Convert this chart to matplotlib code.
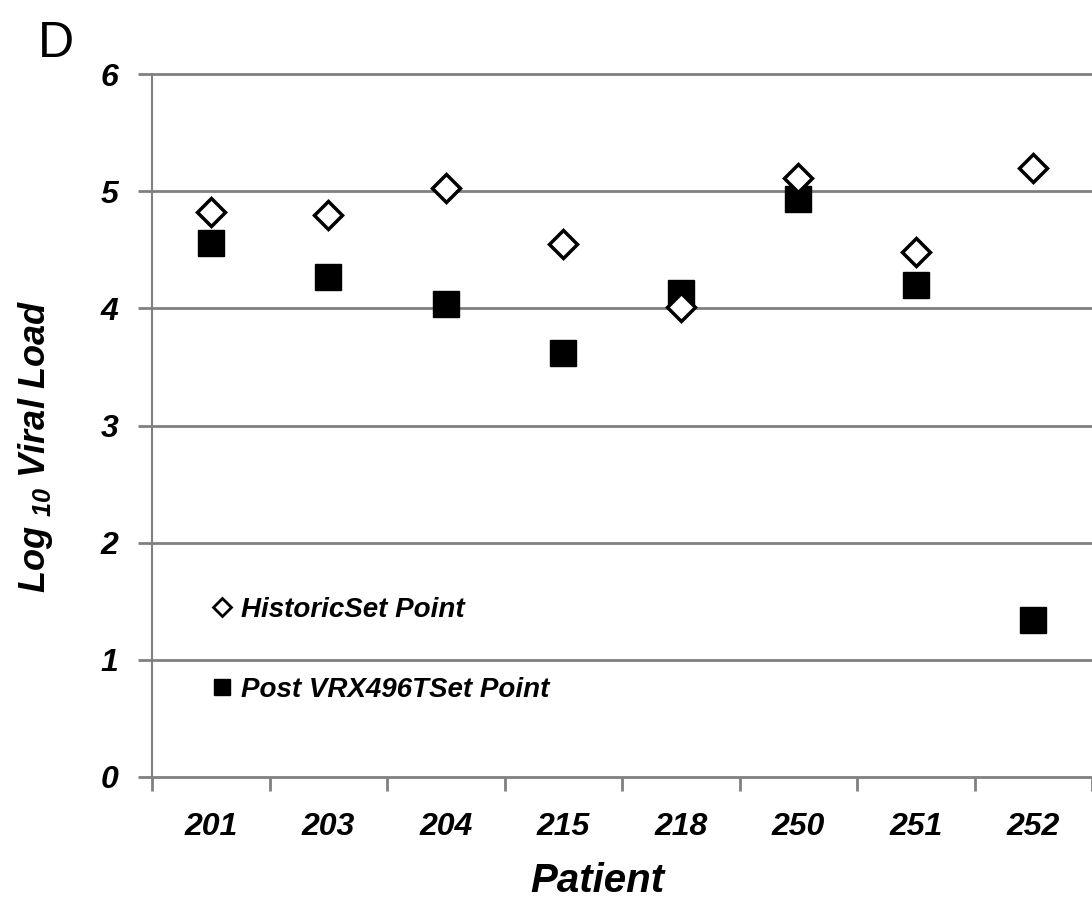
import matplotlib
matplotlib.use("Agg")
import matplotlib.pyplot as plt
from matplotlib.lines import Line2D
import numpy as np

plt.rcParams['font.family'] = ['Liberation Sans', 'DejaVu Sans']
plt.rcParams['mathtext.fontset'] = 'custom'
plt.rcParams['mathtext.rm'] = 'Liberation Sans:bold:italic'
plt.rcParams['mathtext.it'] = 'Liberation Sans:bold:italic'
plt.rcParams['mathtext.bf'] = 'Liberation Sans:bold:italic'

patients = ["201", "203", "204", "215", "218", "250", "251", "252"]
historic = [4.82, 4.80, 5.03, 4.55, 4.01, 5.11, 4.48, 5.20]
post_vrx = [4.56, 4.27, 4.04, 3.62, 4.13, 4.93, 4.20, 1.34]
yticks = [0, 1, 2, 3, 4, 5, 6]

fig = plt.figure(figsize=(10.92, 8.99), dpi=100)
ax = fig.add_axes([152/1092, 1-777/899, 1-152/1092, (777-74)/899])

grid_c = '#808080'
x = np.arange(len(patients))
ax.set_xlim(-0.5, len(patients) - 0.5)
ax.set_ylim(0, 6)

for yv in yticks:
    ax.axhline(yv, color=grid_c, lw=2.0, zorder=1, clip_on=False)

ax.plot(x, post_vrx, linestyle='none', marker='s', ms=18.5, mfc='black', mec='black',
        zorder=3)
ax.plot(x, historic, linestyle='none', marker='D', ms=14, mfc='white', mec='black',
        mew=2.5, zorder=4)

for s in ['top', 'right', 'bottom']:
    ax.spines[s].set_visible(False)
ax.spines['left'].set_color(grid_c)
ax.spines['left'].set_linewidth(1.5)

ax.set_yticks(yticks)
ax.set_yticklabels([str(v) for v in yticks], fontsize=23, fontweight='bold', fontstyle='italic')
ax.tick_params(axis='y', length=10, width=2, color=grid_c, pad=14)

ax.set_xticks(x)
ax.set_xticklabels(patients, fontsize=23, fontweight='bold', fontstyle='italic')
ax.set_xticks(np.arange(-0.5, len(patients) + 0.5, 1), minor=True)
ax.tick_params(axis='x', which='major', length=0, pad=25)
ax.tick_params(axis='x', which='minor', length=10, width=2, color=grid_c, direction='out')

fig.text(597/1092, 1-892/899, 'Patient', fontsize=29, fontweight='bold', fontstyle='italic',
         ha='center', va='baseline')
fig.text(36/1092, 1-446/899, r'Log $_{10}$ Viral Load', fontsize=26, fontweight='bold',
         fontstyle='italic', rotation=90, ha='center', va='center')

handles = [
    Line2D([], [], linestyle='none', marker='D', ms=9.5, mfc='white', mec='black', mew=2),
    Line2D([], [], linestyle='none', marker='s', ms=12, mfc='black', mec='black'),
]
leg = ax.legend(handles, ['HistoricSet Point', 'Post VRX496TSet Point'],
                loc='upper left', bbox_to_anchor=(0.036, 0.292), frameon=False,
                prop={'size': 20, 'weight': 'bold', 'style': 'italic'},
                labelspacing=1.95, handlelength=0.8, handletextpad=0.3)

fig.text(38/1092, 1-57/899, 'D', fontsize=36, ha='left', va='baseline')

fig.savefig('out.png', dpi=100)
